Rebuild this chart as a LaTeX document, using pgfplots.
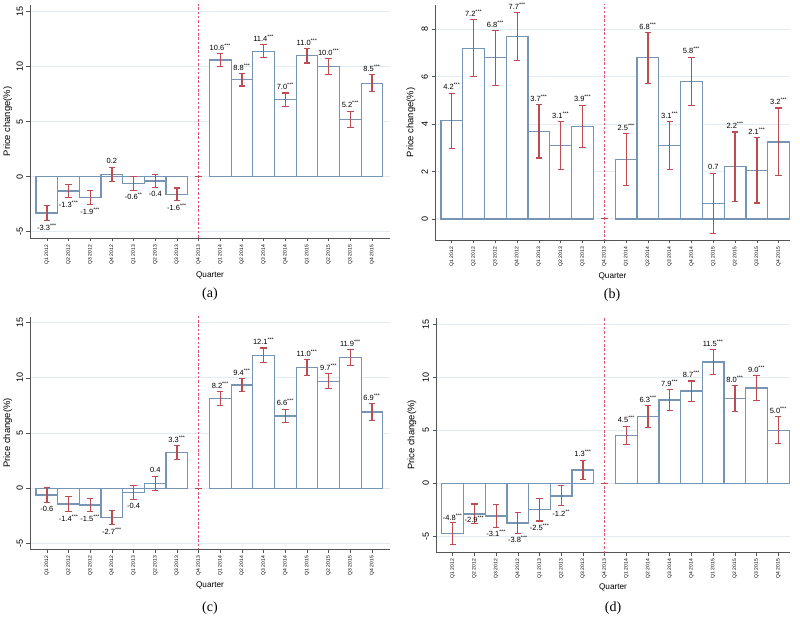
\documentclass[border=0pt]{standalone}
\usepackage{pgfplots}
\pgfplotsset{compat=1.18}
\usepackage{fontspec}
\setmainfont{Liberation Sans}
\newfontfamily\capfont{Liberation Serif}

\definecolor{barc}{RGB}{118,148,180}
\definecolor{errc}{RGB}{188,76,82}
\definecolor{vc}{RGB}{228,80,110}
\definecolor{gridc}{RGB}{226,235,239}
\definecolor{axisc}{RGB}{85,85,85}
\newcommand{\st}[1]{\textsuperscript{#1}}

\pgfplotsset{
  panel/.style={
    scale only axis,
    axis x line*=bottom, axis y line*=left,
    axis line style={axisc, line width=0.7pt},
    xtick={0,...,15},
    xticklabels={Q1 2012,Q2 2012,Q3 2012,Q4 2012,Q1 2013,Q2 2013,Q3 2013,Q4 2013,Q1 2014,Q2 2014,Q3 2014,Q4 2014,Q1 2015,Q2 2015,Q3 2015,Q4 2015},
    xticklabel style={rotate=90, anchor=east, font=\fontsize{5}{6}\selectfont},
    yticklabel style={rotate=90, anchor=south, font=\fontsize{9}{10}\selectfont},
    /pgf/number format/assume math mode=true,
    tick align=outside, major tick length=3.5pt,
    tick style={axisc, line width=0.6pt},
    ymajorgrids, grid style={gridc, line width=0.9pt},
    xlabel={Quarter}, ylabel={Price change(\%)},
    xlabel style={font=\fontsize{8.2}{9}\selectfont, anchor=center},
    ylabel style={font=\fontsize{9.4}{10}\selectfont, anchor=center},
  },
  bars/.style={ybar, bar width=1, fill=white, draw=barc, line width=1.25pt},
  errs/.style={color=errc, line width=1.25pt, only marks, mark=text, text mark={}, forget plot,
    error bars/.cd, y dir=both, y explicit,
    error bar style={draw=errc, line width=1.25pt},
    error mark=-,
    error mark options={rotate=90, draw=errc, mark size=3.2pt, line width=1.1pt}},
  lab/.style={draw=none, mark=none, nodes near coords, point meta=explicit symbolic,
    every node near coord/.style={anchor=center, font=\fontsize{7.5}{8}\selectfont, text=black, inner sep=0pt}},
  labup/.style={lab, every node near coord/.append style={yshift=6.5pt}},
  labdn/.style={lab, every node near coord/.append style={yshift=-6.5pt}},
  vline/.style={vc, dash pattern=on 2.5pt off 1.8pt, line width=1.3pt},
}

\begin{document}
\begin{tikzpicture}
\useasboundingbox (0,0) rectangle (800pt,616pt);

% (a)
\begin{axis}[panel, at={(30pt,378pt)}, anchor=south west, width=360pt, height=233pt,
  xmin=-0.78, xmax=15.83, ymin=-5.57, ymax=15.6, ytick={-5,0,5,10,15},
  xlabel style={at={(axis description cs:0.5,-0.159)}},
  ylabel style={at={(axis description cs:-0.062,0.5)}}]
  \addplot[bars] coordinates {(0,-3.3) (1,-1.3) (2,-1.9) (3,0.2) (4,-0.6) (5,-0.4) (6,-1.6)
    (8,10.6) (9,8.8) (10,11.4) (11,7.0) (12,11.0) (13,10.0) (14,5.2) (15,8.5)};
  \addplot[vline] coordinates {(7,-20) (7,30)};
  \addplot[errs] coordinates {
    (0,-3.3) +- (0,0.67) (1,-1.3) +- (0,0.6) (2,-1.9) +- (0,0.65) (3,0.2) +- (0,0.6)
    (4,-0.6) +- (0,0.62) (5,-0.4) +- (0,0.6) (6,-1.6) +- (0,0.57) (7,0) +- (0,0)
    (8,10.6) +- (0,0.6) (9,8.8) +- (0,0.56) (10,11.4) +- (0,0.6) (11,7.0) +- (0,0.6)
    (12,11.0) +- (0,0.67) (13,10.0) +- (0,0.73) (14,5.2) +- (0,0.75) (15,8.5) +- (0,0.75)};
  \addplot[labdn] coordinates {(0,-3.97)[-3.3\st{***}] (1,-1.9)[-1.3\st{***}] (2,-2.55)[-1.9\st{***}]
    (4,-1.22)[-0.6\st{**}] (5,-1.0)[-0.4] (6,-2.17)[-1.6\st{***}]};
  \addplot[labup] coordinates {(3,0.8)[0.2] (8,11.2)[10.6\st{***}] (9,9.36)[8.8\st{***}]
    (10,12.0)[11.4\st{***}] (11,7.6)[7.0\st{***}] (12,11.67)[11.0\st{***}]
    (13,10.73)[10.0\st{***}] (14,5.95)[5.2\st{***}] (15,9.25)[8.5\st{***}]};
\end{axis}

% (b)
\begin{axis}[panel, at={(435pt,376pt)}, anchor=south west, width=355pt, height=235pt,
  xmin=-0.77, xmax=15.52, ymin=-0.89, ymax=9.03, ytick={0,2,4,6,8},
  xlabel style={at={(axis description cs:0.5,-0.153)}},
  ylabel style={at={(axis description cs:-0.068,0.5)}}]
  \addplot[bars] coordinates {(0,4.15) (1,7.2) (2,6.8) (3,7.7) (4,3.7) (5,3.1) (6,3.9)
    (8,2.5) (9,6.8) (10,3.1) (11,5.8) (12,0.65) (13,2.2) (14,2.05) (15,3.25)};
  \addplot[vline] coordinates {(7,-20) (7,30)};
  \addplot[errs] coordinates {
    (0,4.15) +- (0,1.16) (1,7.2) +- (0,1.2) (2,6.8) +- (0,1.15) (3,7.7) +- (0,1.0)
    (4,3.7) +- (0,1.13) (5,3.1) +- (0,1.0) (6,3.9) +- (0,0.9) (7,0) +- (0,0)
    (8,2.5) +- (0,1.1) (9,6.8) +- (0,1.07) (10,3.1) +- (0,1.0) (11,5.8) +- (0,1.03)
    (12,0.65) +- (0,1.28) (13,2.2) +- (0,1.47) (14,2.05) +- (0,1.38) (15,3.25) +- (0,1.43)};
  \addplot[labup] coordinates {(0,5.31)[4.2\st{***}] (1,8.4)[7.2\st{***}] (2,7.95)[6.8\st{***}]
    (3,8.7)[7.7\st{***}] (4,4.83)[3.7\st{***}] (5,4.1)[3.1\st{***}] (6,4.8)[3.9\st{***}]
    (8,3.6)[2.5\st{***}] (9,7.87)[6.8\st{***}] (10,4.1)[3.1\st{***}] (11,6.83)[5.8\st{***}]
    (12,1.93)[0.7] (13,3.67)[2.2\st{***}] (14,3.43)[2.1\st{***}] (15,4.68)[3.2\st{***}]};
\end{axis}

% (c)
\begin{axis}[panel, at={(30pt,67pt)}, anchor=south west, width=360pt, height=232pt,
  xmin=-0.78, xmax=15.83, ymin=-5.48, ymax=15.5, ytick={-5,0,5,10,15},
  xlabel style={at={(axis description cs:0.5,-0.155)}},
  ylabel style={at={(axis description cs:-0.062,0.5)}}]
  \addplot[bars] coordinates {(0,-0.6) (1,-1.4) (2,-1.5) (3,-2.65) (4,-0.35) (5,0.45) (6,3.25)
    (8,8.15) (9,9.35) (10,12.05) (11,6.55) (12,10.95) (13,9.7) (14,11.85) (15,6.9)};
  \addplot[vline] coordinates {(7,-20) (7,30)};
  \addplot[errs] coordinates {
    (0,-0.6) +- (0,0.7) (1,-1.4) +- (0,0.68) (2,-1.5) +- (0,0.6) (3,-2.65) +- (0,0.62)
    (4,-0.35) +- (0,0.62) (5,0.45) +- (0,0.62) (6,3.25) +- (0,0.62) (7,0) +- (0,0)
    (8,8.15) +- (0,0.62) (9,9.35) +- (0,0.6) (10,12.05) +- (0,0.65) (11,6.55) +- (0,0.62)
    (12,10.95) +- (0,0.7) (13,9.7) +- (0,0.65) (14,11.85) +- (0,0.7) (15,6.9) +- (0,0.8)};
  \addplot[labdn] coordinates {(0,-1.3)[-0.6] (1,-2.08)[-1.4\st{***}] (2,-2.1)[-1.5\st{***}]
    (3,-3.27)[-2.7\st{***}] (4,-0.97)[-0.4]};
  \addplot[labup] coordinates {(5,1.07)[0.4] (6,3.87)[3.3\st{***}] (8,8.77)[8.2\st{***}]
    (9,9.95)[9.4\st{***}] (10,12.7)[12.1\st{***}] (11,7.17)[6.6\st{***}] (12,11.65)[11.0\st{***}]
    (13,10.35)[9.7\st{***}] (14,12.55)[11.9\st{***}] (15,7.7)[6.9\st{***}]};
\end{axis}

% (d)
\begin{axis}[panel, at={(436pt,64pt)}, anchor=south west, width=354pt, height=234pt,
  xmin=-0.77, xmax=15.54, ymin=-6.5, ymax=15.6, ytick={-5,0,5,10,15},
  xlabel style={at={(axis description cs:0.5,-0.15)}},
  ylabel style={at={(axis description cs:-0.068,0.5)}}]
  \addplot[bars] coordinates {(0,-4.75) (1,-2.9) (2,-3.1) (3,-3.75) (4,-2.5) (5,-1.2) (6,1.25)
    (8,4.5) (9,6.3) (10,7.85) (11,8.7) (12,11.45) (13,8.0) (14,9.0) (15,5.0)};
  \addplot[vline] coordinates {(7,-20) (7,30)};
  \addplot[errs] coordinates {
    (0,-4.75) +- (0,1.05) (1,-2.9) +- (0,0.93) (2,-3.1) +- (0,1.07) (3,-3.75) +- (0,1.02)
    (4,-2.5) +- (0,1.07) (5,-1.2) +- (0,0.95) (6,1.25) +- (0,0.93) (7,0) +- (0,0)
    (8,4.5) +- (0,0.87) (9,6.3) +- (0,1.03) (10,7.85) +- (0,1.0) (11,8.7) +- (0,0.95)
    (12,11.45) +- (0,1.2) (13,8.0) +- (0,1.2) (14,9.0) +- (0,1.17) (15,5.0) +- (0,1.28)};
  \addplot[lab] coordinates {(0,-3.18)[-4.8\st{***}] (1,-3.43)[-2.9\st{***}] (2,-4.69)[-3.1\st{***}]
    (3,-5.28)[-3.8\st{***}] (4,-4.12)[-2.5\st{***}] (5,-2.8)[-1.2\st{**}]};
  \addplot[labup] coordinates {(6,2.17)[1.3\st{***}] (8,5.4)[4.5\st{***}] (9,7.29)[6.3\st{***}]
    (10,8.87)[7.9\st{***}] (11,9.63)[8.7\st{***}] (12,12.63)[11.5\st{***}] (13,9.22)[8.0\st{***}]
    (14,10.17)[9.0\st{***}] (15,6.3)[5.0\st{***}]};
\end{axis}

\begin{scope}[every node/.style={font=\capfont\fontsize{14}{15}\selectfont, inner sep=0pt}]
  \node at (210pt,322pt) {(a)};
  \node at (612pt,321pt) {(b)};
  \node at (210pt,8pt) {(c)};
  \node at (613pt,8pt) {(d)};
\end{scope}
\end{tikzpicture}
\end{document}
